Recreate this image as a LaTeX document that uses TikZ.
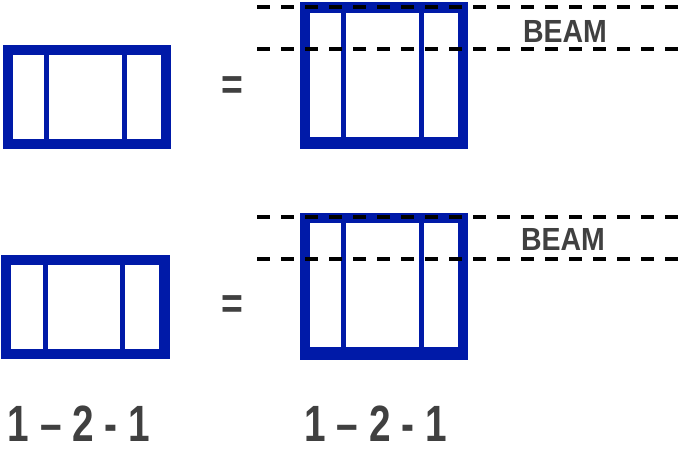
\documentclass[tikz,border=0pt]{standalone}
\usepackage{fontspec}
\newfontfamily\labfont{Liberation Sans}
\definecolor{winblue}{HTML}{001AA8}
\definecolor{txtgray}{HTML}{404040}
\tikzset{
  frame/.style={fill=winblue},
  pane/.style={fill=white},
  beamline/.style={black, line width=3.5pt, dash pattern=on 13pt off 11pt},
  eqsign/.style={inner sep=0pt, text=txtgray, font=\labfont\bfseries\fontsize{44}{44}\selectfont, xscale=0.85},
  beamtext/.style={inner sep=0pt, anchor=base, text=txtgray, font=\labfont\bfseries\fontsize{32}{32}\selectfont, xscale=0.89},
  numtext/.style={inner sep=0pt, text depth=0pt, anchor=base, text=txtgray, font=\labfont\bfseries\fontsize{51}{51}\selectfont, xscale=0.76}
}
\begin{document}
\begin{tikzpicture}[x=1pt, y=-1pt]
    \useasboundingbox (0,0) rectangle (679,448);
    \fill[frame] (3,45) rectangle (171,149);
    \fill[pane] (13,55) rectangle (44,139);
    \fill[pane] (49,55) rectangle (122,139);
    \fill[pane] (127,55) rectangle (161,139);
    \fill[frame] (300,2) rectangle (468,149);
    \fill[pane] (310,13) rectangle (341,137);
    \fill[pane] (346,13) rectangle (419,137);
    \fill[pane] (424,13) rectangle (458,137);
    \fill[frame] (1,255) rectangle (170,359);
    \fill[pane] (11,265) rectangle (43,349);
    \fill[pane] (48,265) rectangle (120,349);
    \fill[pane] (125,265) rectangle (159,349);
    \fill[frame] (300,213) rectangle (468,360);
    \fill[pane] (310,223) rectangle (341,347);
    \fill[pane] (346,223) rectangle (419,347);
    \fill[pane] (424,223) rectangle (458,347);
    \coordinate (t1) at (257,7);
    \coordinate (t1e) at (679,7);
    \coordinate (t2) at (257,49);
    \coordinate (t2e) at (679,49);
    \coordinate (b1) at (257,217);
    \coordinate (b1e) at (679,217);
    \coordinate (b2) at (257,259);
    \coordinate (b2e) at (679,259);
    \draw[beamline] (t1) -- (t1e);
    \draw[beamline] (t2) -- (t2e);
    \draw[beamline] (b1) -- (b1e);
    \draw[beamline] (b2) -- (b2e);
    \node[eqsign] (eqtop) at (232,88) {=};
    \node[eqsign] (eqbot) at (232,307) {=};
    \node[beamtext] (beamtop) at (565,42) {BEAM};
    \node[beamtext] (beambot) at (563,250) {BEAM};
    \node[numtext] (numleft) at (79,441) {1 – 2 - 1};
    \node[numtext] (numright) at (375.5,441) {1 – 2 - 1};
\end{tikzpicture}
\end{document}
